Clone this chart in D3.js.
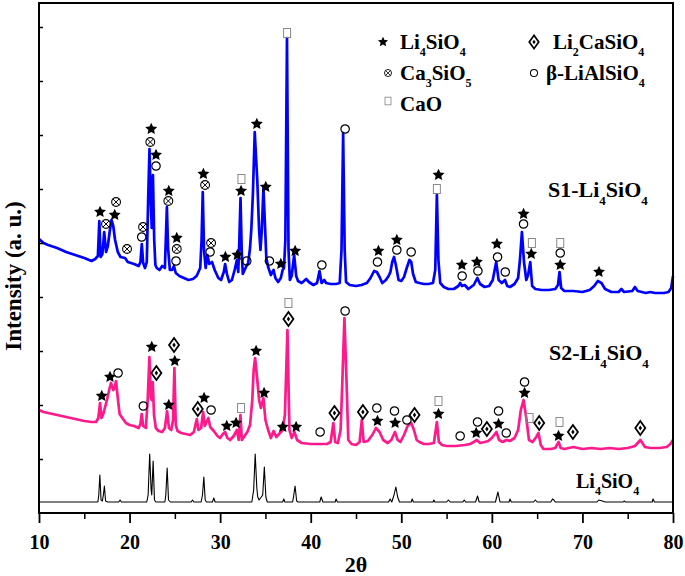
<!DOCTYPE html>
<html><head><meta charset="utf-8">
<script src="https://cdn.jsdelivr.net/npm/d3@7"></script>
<style>html,body{margin:0;padding:0;background:#fff;} svg{display:block;}</style>
</head><body>
<svg id="chart" width="685" height="576"></svg>
<script>
// ---------------- DATA ----------------
const xTicks = [10, 20, 30, 40, 50, 60, 70, 80];
const xMinorTicks = [15, 25, 35, 45, 55, 65, 75];
const yTicks = [54, 108, 162, 216, 270, 324, 378, 432, 486];

// S1-Li4SiO4 pattern [2theta, intensity (a.u., stacked)]
const s1Pattern = [
[10.0,274],[10.5,270],[11.0,268],[12.0,265],[13.0,261],[14.0,258],[15.0,255],[15.8,252],[16.2,254],[16.5,257],
[16.66,292],[16.8,256],[17.0,259],[17.2,281],[17.4,261],[17.6,267],[17.8,281],[18.0,293],[18.2,287],[18.4,273],
[18.7,261],[19.0,256],[19.5,255],[19.8,251],[20.5,249],[21.0,247],[21.2,251],[21.35,269],[21.5,250],[21.7,245],
[21.9,251],[22.05,313],[22.2,364],[22.35,308],[22.45,285],[22.58,338],[22.72,273],[22.85,248],[23.0,245],[23.3,243],
[23.6,247],[23.9,245],[24.0,273],[24.12,306],[24.25,265],[24.45,243],[24.7,243],[24.9,247],[25.1,240],[25.5,237],
[26.0,235],[26.5,233],[27.0,234],[27.4,237],[27.8,245],[27.95,273],[28.08,321],[28.22,263],[28.4,245],[28.6,258],
[28.8,249],[29.1,251],[29.4,243],[29.8,235],[30.1,233],[30.4,241],[30.55,249],[30.75,239],[31.0,231],[31.3,233],
[31.6,243],[31.85,253],[32.0,241],[32.12,273],[32.25,315],[32.38,263],[32.5,239],[32.7,243],[32.9,247],[33.1,250],
[33.3,265],[33.45,285],[33.62,320],[33.82,381],[33.98,353],[34.1,333],[34.3,283],[34.45,263],[34.6,283],[34.78,325],
[34.95,288],[35.1,255],[35.3,246],[35.6,238],[35.9,243],[36.1,235],[36.4,231],[36.7,235],[36.9,243],[37.05,245],
[37.2,273],[37.38,475],[37.55,263],[37.7,233],[37.9,237],[38.17,258],[38.4,237],[38.6,232],[39.0,230],[39.5,234],
[39.8,231],[40.3,228],[40.7,230],[40.97,242],[41.2,230],[41.5,233],[41.7,230],[42.2,229],[42.8,229],[43.2,230],
[43.4,263],[43.58,380],[43.75,263],[43.9,231],[44.3,228],[45.0,227],[45.6,228],[46.2,230],[46.6,235],[47.0,242],
[47.3,241],[47.6,236],[47.9,230],[48.3,233],[48.6,237],[48.8,241],[49.0,251],[49.2,256],[49.4,248],[49.7,233],
[50.0,232],[50.3,236],[50.6,245],[50.9,253],[51.1,251],[51.3,239],[51.6,231],[52.0,230],[52.5,229],[53.0,229],
[53.5,230],[53.75,243],[53.93,318],[54.1,253],[54.3,230],[54.7,226],[55.2,224],[55.8,224],[56.3,227],[56.5,230],
[56.7,227],[57.0,228],[57.4,224],[58.0,228],[58.4,235],[58.7,229],[59.2,226],[59.7,227],[60.1,233],[60.48,251],
[60.75,233],[61.1,230],[61.45,233],[61.7,227],[62.0,226],[62.5,229],[62.9,235],[63.1,253],[63.32,281],[63.55,251],
[63.8,233],[64.0,238],[64.24,251],[64.45,227],[64.8,224],[65.5,223],[66.3,223],[67.0,224],[67.3,228],[67.47,241],
[67.65,225],[68.0,222],[69.0,222],[70.0,221],[70.8,223],[71.3,227],[71.7,232],[72.1,230],[72.5,224],[73.2,221],
[74.0,221],[74.3,224],[74.6,221],[75.5,222],[75.8,226],[76.1,222],[77.0,220],[77.5,221],[78.0,220],[79.0,220],
[79.5,221],[79.8,225],[80.0,237]
];

// S2-Li4SiO4 pattern
const s2Pattern = [
[10.0,103],[10.5,101],[11.0,100],[12.0,98],[13.0,96],[14.0,94],[15.0,92],[15.8,91],[16.3,91],[16.55,95],
[16.74,110],[16.9,95],[17.1,99],[17.5,113],[17.8,125],[17.95,130],[18.2,123],[18.35,125],[18.5,132],[18.7,115],
[18.9,99],[19.2,95],[19.6,90],[20.0,88],[20.5,87],[21.0,85],[21.2,89],[21.34,99],[21.5,87],[21.8,85],
[22.0,113],[22.19,156],[22.35,115],[22.45,113],[22.56,131],[22.7,98],[22.9,85],[23.2,82],[23.6,81],[23.9,85],
[24.14,102],[24.35,85],[24.6,83],[24.8,93],[24.95,145],[25.1,88],[25.3,82],[25.7,80],[26.2,79],[26.7,78],
[27.1,81],[27.42,94],[27.6,83],[27.9,85],[28.12,101],[28.3,87],[28.5,91],[28.7,95],[28.9,86],[29.3,82],
[29.7,77],[30.0,75],[30.3,79],[30.55,81],[30.8,75],[31.1,73],[31.5,77],[31.85,83],[32.05,73],[32.24,98],
[32.4,73],[32.7,77],[33.0,81],[33.3,88],[33.55,113],[33.7,143],[33.86,155],[34.05,138],[34.3,113],[34.5,105],
[34.78,115],[35.0,93],[35.3,83],[35.6,75],[35.9,82],[36.2,76],[36.6,80],[36.9,83],[37.15,98],[37.43,183],
[37.65,83],[37.9,75],[38.2,81],[38.5,73],[39.0,70],[40.0,69],[41.0,69],[41.8,69],[42.2,71],[42.5,90],
[42.7,71],[43.0,70],[43.3,83],[43.5,133],[43.72,195],[43.95,133],[44.15,73],[44.5,69],[45.0,68],[45.4,71],
[45.64,93],[45.85,71],[46.3,72],[46.8,78],[47.2,85],[47.6,81],[48.0,73],[48.5,70],[48.9,73],[49.3,81],
[49.6,73],[49.9,71],[50.3,78],[50.7,87],[51.1,90],[51.4,83],[51.7,73],[52.0,71],[52.5,69],[53.0,69],
[53.6,70],[53.93,91],[54.15,71],[54.5,68],[55.0,67],[56.0,67],[57.0,68],[57.6,69],[58.0,71],[58.35,73],
[58.7,70],[59.2,71],[59.6,72],[60.0,75],[60.5,81],[60.8,73],[61.2,71],[61.6,73],[62.0,72],[62.5,75],
[62.9,83],[63.2,103],[63.5,113],[63.8,95],[64.1,73],[64.5,71],[64.9,76],[65.15,80],[65.4,68],[65.7,64],
[66.5,64],[67.0,65],[67.37,71],[67.6,65],[68.0,64],[69.0,66],[70.0,64],[71.0,65],[72.0,64],[73.0,65],
[74.0,64],[75.0,65],[75.8,67],[76.4,73],[76.9,66],[77.5,65],[78.5,65],[79.3,66],[79.7,69],[80.0,73]
];

// Li4SiO4 reference pattern
const refPattern = [
[10.0,11],[12.0,11],[14.0,11],[16.0,11],[16.5,11],[16.6,18],[16.72,38],[16.85,13],[17.0,12],[17.12,19],
[17.22,27],[17.35,12],[17.6,11],[18.8,11],[18.95,13],[19.1,11],[21.9,11],[22.05,18],[22.22,59],[22.38,23],
[22.45,18],[22.6,52],[22.75,13],[22.9,11],[23.9,11],[24.0,18],[24.15,45],[24.3,13],[24.5,11],[26.8,11],
[26.95,13],[27.1,11],[27.9,11],[28.05,18],[28.2,36],[28.35,13],[28.5,11],[29.15,11],[29.3,15],[29.45,11],
[33.5,11],[33.7,23],[33.87,59],[34.05,25],[34.15,16],[34.3,13],[34.7,18],[34.88,46],[35.05,16],[35.2,11],
[36.9,11],[37.03,14],[37.15,11],[38.0,11],[38.1,16],[38.27,27],[38.45,12],[38.6,11],[41.0,11],[41.15,16],
[41.35,11],[42.7,11],[42.8,14],[42.95,11],[48.6,11],[48.76,14],[48.95,11],[49.2,18],[49.4,26],[49.6,16],
[49.8,11],[51.1,11],[51.2,14],[51.35,11],[53.5,11],[53.6,13],[53.7,11],[55.0,11],[55.2,13],[55.4,11],
[56.8,11],[56.95,13],[57.1,11],[58.2,11],[58.42,17],[58.6,11],[60.4,11],[60.67,21],[60.9,11],[61.9,11],
[62.0,14],[62.15,11],[64.6,11],[64.8,13],[65.0,11],[66.5,11],[66.7,14],[66.85,13],[67.0,11],[71.6,11],
[71.8,13],[72.2,12],[72.5,11],[74.5,11],[74.6,12],[74.75,11],[77.7,11],[77.8,14],[77.95,11],[80.0,11]
];

// phase marks [2theta, intensity position, phase]
const s1Marks = [
[16.74,301,"star"],[17.40,289,"cross"],[18.51,311,"cross"],[18.36,298,"star"],[19.72,264,"cross"],
[21.49,286,"cross"],[21.34,276,"circle"],[22.39,384,"star"],[22.29,371,"cross"],[22.92,358,"star"],
[22.92,347,"circle"],[24.33,322,"star"],[24.28,312,"cross"],[25.21,275,"star"],[25.21,264,"cross"],
[25.13,252,"circle"],[28.15,339,"star"],[28.34,328,"cross"],[29.0,270,"cross"],[28.89,261,"circle"],
[30.58,256,"star"],[31.9,258,"star"],[32.94,252,"circle"],[32.31,322,"star"],[32.35,334,"square"],
[34.05,389,"star"],[35.04,326,"star"],[35.44,252,"circle"],[36.7,249,"star"],[38.28,262,"star"],
[37.39,480,"square"],[41.23,248,"circle"],[43.8,384,"circle"],[47.48,262,"star"],[47.37,251,"circle"],
[49.51,273,"star"],[49.51,263,"circle"],[51.09,261,"circle"],[54.11,338,"star"],[53.93,324,"square"],
[56.69,248,"star"],[56.72,237,"circle"],[58.35,251,"star"],[58.46,242,"circle"],[60.56,269,"star"],
[60.63,256,"circle"],[61.48,241,"circle"],[63.5,299,"star"],[63.5,289,"circle"],[64.42,270,"square"],
[64.35,259,"star"],[67.55,270,"square"],[67.55,260,"circle"],[67.55,248,"star"],[71.83,241,"star"]
];
const s2Marks = [
[16.93,117,"star"],[17.84,136,"star"],[18.73,140,"circle"],[21.52,107,"circle"],[22.45,166,"star"],
[22.96,140,"diamond"],[24.91,168,"diamond"],[24.99,152,"star"],[24.33,108,"star"],[27.53,104,"diamond"],
[28.23,115,"star"],[29.0,103,"circle"],[30.73,87,"star"],[31.76,90,"star"],[32.31,105,"square"],
[33.97,162,"star"],[34.85,120,"star"],[37.54,210,"square"],[37.54,194,"diamond"],[36.92,86,"star"],
[38.39,86,"star"],[41.04,81,"circle"],[42.62,100,"diamond"],[43.8,202,"circle"],[45.76,101,"diamond"],
[47.3,105,"circle"],[47.37,92,"star"],[49.25,102,"circle"],[49.32,90,"star"],[50.62,93,"circle"],
[51.46,98,"diamond"],[54.11,112,"square"],[54.11,99,"star"],[56.5,77,"circle"],[58.27,80,"star"],
[58.42,91,"circle"],[59.45,84,"diamond"],[60.74,102,"circle"],[60.74,89,"star"],[61.59,80,"circle"],
[63.61,131,"circle"],[63.61,120,"star"],[64.16,95,"square"],[65.23,90,"diamond"],[67.47,91,"square"],
[67.36,77,"star"],[68.95,81,"diamond"],[76.39,85,"diamond"]
];

// legend: symbol + label parts ([text, isSubscript])
const legendItems = [
  {sym:"star",    parts:[["Li"],["4",1],["SiO"],["4",1]]},
  {sym:"cross",   parts:[["Ca"],["3",1],["SiO"],["5",1]]},
  {sym:"square",  parts:[["CaO"]]},
  {sym:"diamond", parts:[["Li"],["2",1],["CaSiO"],["4",1]]},
  {sym:"circle",  parts:[["β-LiAlSiO"],["4",1]]}
];
const seriesLabels = [
  {parts:[["S1-Li"],["4",1],["SiO"],["4",1]]},
  {parts:[["S2-Li"],["4",1],["SiO"],["4",1]]},
  {parts:[["Li"],["4",1],["SiO"],["4",1]]}
];
const xAxisTitle = "2θ";
const yAxisTitle = "Intensity (a. u.)";

// ---------------- DRAWING ----------------
const FONT = "'Liberation Serif','Times New Roman',Times,serif";
const svg = d3.select("#chart");
const x = d3.scaleLinear().domain([10, 80]).range([39, 673]);
const y = d3.scaleLinear().domain([0, 510]).range([513, 3]);

const line = d3.line().x(d => x(d[0])).y(d => y(d[1]));

svg.append("path").datum(refPattern).attr("d", line)
  .attr("fill","none").attr("stroke","#000").attr("stroke-width",1.1).attr("stroke-linejoin","round");
svg.append("path").datum(s2Pattern).attr("d", line)
  .attr("fill","none").attr("stroke","#ff1a8c").attr("stroke-width",2.7).attr("stroke-linejoin","round");
svg.append("path").datum(s1Pattern).attr("d", line)
  .attr("fill","none").attr("stroke","#0000ff").attr("stroke-width",2.7).attr("stroke-linejoin","round");

// axes
const gx = svg.append("g").attr("transform","translate(0,513)")
  .call(d3.axisBottom(x).tickValues(xTicks).tickSize(10).tickSizeOuter(0).tickPadding(12).tickFormat(d3.format("d")));
gx.select(".domain").remove();
gx.selectAll("line").attr("stroke","#000").attr("stroke-width",1.8);
gx.selectAll("text").attr("font-family",FONT).attr("font-weight","bold").attr("font-size",20).attr("fill","#000");
const gxm = svg.append("g").attr("transform","translate(0,513)")
  .call(d3.axisBottom(x).tickValues(xMinorTicks).tickSize(6).tickSizeOuter(0).tickFormat(""));
gxm.select(".domain").remove();
gxm.selectAll("line").attr("stroke","#000").attr("stroke-width",1.5);
const gy = svg.append("g").attr("transform","translate(39,0)")
  .call(d3.axisLeft(y).tickValues(yTicks).tickSize(-4).tickSizeOuter(0).tickFormat(""));
gy.select(".domain").remove();
gy.selectAll("line").attr("stroke","#000").attr("stroke-width",1.5);

svg.append("rect").attr("x",x(10)).attr("y",y(510)).attr("width",x(80)-x(10)).attr("height",y(0)-y(510))
  .attr("fill","none").attr("stroke","#000").attr("stroke-width",2);

// axis titles
svg.append("text").attr("x",(x(10)+x(80))/2).attr("y",572).attr("text-anchor","middle")
  .attr("font-family",FONT).attr("font-weight","bold").attr("font-size",22).text(xAxisTitle);
svg.append("text").attr("transform","rotate(-90)").attr("x",-276).attr("y",21).attr("text-anchor","middle")
  .attr("font-family",FONT).attr("font-weight","bold").attr("font-size",23).text(yAxisTitle);

// symbols
function starPath(R, r) {
  const p = [];
  for (let i = 0; i < 10; i++) {
    const a = -Math.PI/2 + i*Math.PI/5, rad = i % 2 ? r : R;
    p.push([(rad*Math.cos(a)).toFixed(2), (rad*Math.sin(a)).toFixed(2)]);
  }
  return "M" + p.join("L") + "Z";
}
function drawSymbol(g, type, cx, cy, k) {
  const s = g.append("g").attr("transform", `translate(${cx},${cy}) scale(${k})`);
  if (type === "star") {
    s.append("path").attr("d", starPath(6.3, 3)).attr("fill","#000");
  } else if (type === "circle") {
    s.append("circle").attr("r",4.2).attr("fill","none").attr("stroke","#000").attr("stroke-width",1.2);
  } else if (type === "cross") {
    s.append("circle").attr("r",4.4).attr("fill","none").attr("stroke","#000").attr("stroke-width",1.1);
    const d = 3.1;
    s.append("path").attr("d",`M${-d},${-d}L${d},${d}M${-d},${d}L${d},${-d}`).attr("stroke","#000").attr("stroke-width",1);
  } else if (type === "square") {
    s.append("rect").attr("x",-3.5).attr("y",-4.5).attr("width",7).attr("height",9)
      .attr("fill","none").attr("stroke","#8a8a8a").attr("stroke-width",1);
  } else if (type === "diamond") {
    s.append("path").attr("d","M0,-7L5,0L0,7L-5,0Z").attr("fill","#fff").attr("stroke","#000").attr("stroke-width",1.8);
    s.append("path").attr("d","M0,-2.4L1.7,0L0,2.4L-1.7,0Z").attr("fill","#000");
  }
}
const marksG = svg.append("g");
s1Marks.forEach(m => drawSymbol(marksG, m[2], x(m[0]), y(m[1]), 1));
s2Marks.forEach(m => drawSymbol(marksG, m[2], x(m[0]), y(m[1]), 1));

// rich text with subscripts
function richText(parts, px, py, size, subSize, drop) {
  const t = svg.append("text").attr("x",px).attr("y",py).attr("font-family",FONT)
    .attr("font-weight","bold").attr("font-size",size).attr("fill","#000");
  let low = false;
  parts.forEach(([str, sub]) => {
    const ts = t.append("tspan").text(str);
    if (sub) { ts.attr("font-size",subSize); if (!low) { ts.attr("dy",drop); low = true; } }
    else if (low) { ts.attr("dy",-drop); low = false; }
  });
  return t;
}

// legend layout
const legendLayout = [
  {sx:383, sy:42,  k:0.85, tx:400, ty:49},
  {sx:388, sy:73,  k:0.8,  tx:400, ty:80},
  {sx:388, sy:101, k:0.85, tx:400, ty:111},
  {sx:534, sy:42,  k:0.95, tx:553, ty:49},
  {sx:534, sy:73,  k:0.85, tx:546, ty:80}
];
legendItems.forEach((it, i) => {
  const L = legendLayout[i];
  drawSymbol(svg, it.sym, L.sx, L.sy, L.k);
  richText(it.parts, L.tx, L.ty, 21, 12, 7);
});

// series labels
const labelLayout = [
  {tx:548, ty:197, size:22, sub:13, drop:8},
  {tx:549, ty:360, size:22, sub:13, drop:8},
  {tx:576, ty:488, size:20, sub:12, drop:7}
];
seriesLabels.forEach((lb, i) => {
  const L = labelLayout[i];
  richText(lb.parts, L.tx, L.ty, L.size, L.sub, L.drop);
});
</script>
</body></html>
